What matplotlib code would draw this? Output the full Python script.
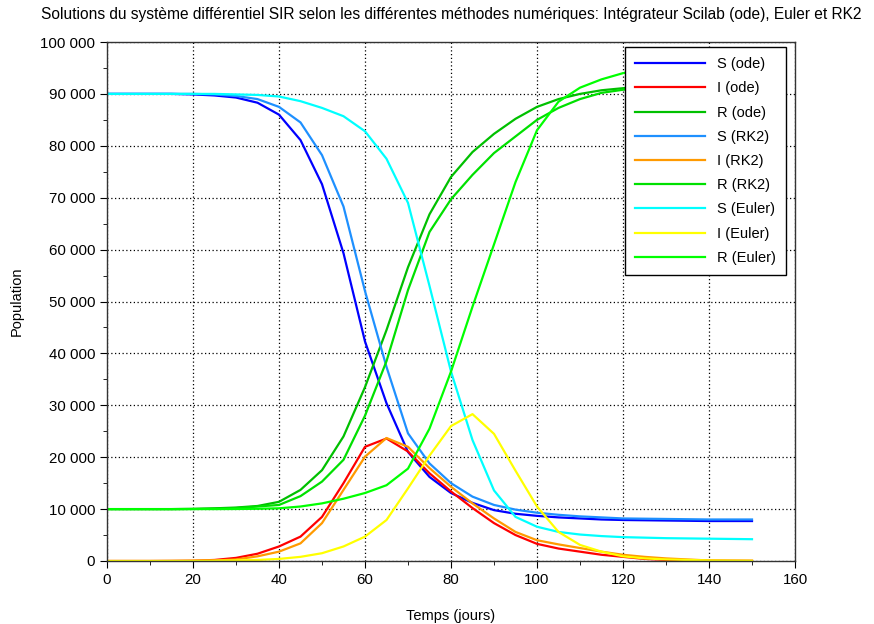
import matplotlib
matplotlib.use("Agg")
import matplotlib.pyplot as plt
from matplotlib.ticker import MultipleLocator, FuncFormatter

# temps (jours), pas de 5 jours
t = [0, 5, 10, 15, 20, 25, 30, 35, 40, 45, 50, 55, 60, 65, 70, 75, 80, 85, 90,
     95, 100, 105, 110, 115, 120, 125, 130, 135, 140, 145, 150]

# integrateur scilab (ode)
S_ode = [90000, 90000, 90000, 90000, 89900, 89700, 89300, 88300, 86000, 81100,
         72600, 59300, 42300, 30400, 21000, 16200, 13100, 11200, 9800, 9100,
         8700, 8400, 8200, 8000, 7900, 7850, 7800, 7750, 7700, 7700, 7700]
I_ode = [0, 0, 0, 20, 60, 200, 600, 1400, 2800, 4700, 8500, 15000, 22000, 23600,
         21100, 16900, 13400, 10200, 7300, 5000, 3300, 2400, 1800, 1200, 800,
         400, 200, 100, 80, 50, 30]
R_ode = [10000, 10000, 10000, 10000, 10050, 10150, 10300, 10600, 11400, 13700,
         17500, 24000, 33500, 44500, 56600, 66800, 74000, 78800, 82300, 85200,
         87500, 89000, 90000, 90700, 91100, 91400, 91700, 91900, 92000, 92100, 92200]

# RK2
S_rk2 = [90000, 90000, 90000, 90000, 90000, 89900, 89600, 89000, 87500, 84500,
         78200, 68300, 52000, 37400, 24600, 18800, 15000, 12400, 10800, 9900,
         9300, 8900, 8600, 8400, 8200, 8150, 8100, 8050, 8000, 8000, 8000]
I_rk2 = [0, 0, 0, 10, 30, 100, 300, 900, 1800, 3400, 7300, 13700, 20100, 23700,
         22000, 17900, 14300, 11100, 8200, 5600, 4000, 3200, 2500, 1800, 1200,
         800, 500, 300, 100, 50, 30]
R_rk2 = [10000, 10000, 10000, 10000, 10020, 10080, 10200, 10500, 10800, 12500,
         15300, 19500, 28000, 38500, 52200, 63400, 69700, 74400, 78600, 81800,
         85000, 87300, 89000, 90200, 90800, 91200, 91500, 91700, 91800, 91900, 92000]

# Euler
S_eul = [90000, 90000, 90000, 90000, 90000, 90000, 89900, 89800, 89500, 88600,
         87300, 85700, 82800, 77500, 69000, 53000, 36500, 23300, 13600, 8500,
         6600, 5600, 5100, 4800, 4600, 4500, 4400, 4350, 4300, 4250, 4200]
I_eul = [0, 0, 0, 10, 30, 60, 120, 200, 400, 800, 1500, 2800, 4700, 7900,
         14000, 20300, 26000, 28300, 24500, 17400, 10500, 5600, 3100, 1800, 900,
         500, 300, 200, 100, 70, 50]
R_eul = [10000, 10000, 10000, 10000, 10000, 10000, 10020, 10060, 10150, 10500,
         11100, 12000, 13100, 14600, 17800, 25500, 36500, 49000, 61000, 73000,
         83000, 88500, 91200, 92800, 94000, 94700, 95200, 95400, 95600, 95700, 95800]

series = [
    ("S (ode)", S_ode, "#0000ff"),
    ("I (ode)", I_ode, "#ff0000"),
    ("R (ode)", R_ode, "#00c000"),
    ("S (RK2)", S_rk2, "#1e90ff"),
    ("I (RK2)", I_rk2, "#ff9a00"),
    ("R (RK2)", R_rk2, "#00e000"),
    ("S (Euler)", S_eul, "#00ffff"),
    ("I (Euler)", I_eul, "#ffff00"),
    ("R (Euler)", R_eul, "#00ff00"),
]

plt.rcParams["font.family"] = ["Liberation Sans", "DejaVu Sans"]

fig = plt.figure(figsize=(8.74, 6.24), dpi=100)
ax = fig.add_axes([107 / 874, 63 / 624, 688 / 874, 519 / 624])

for name, vals, col in series:
    ax.plot(t, vals, color=col, lw=1.6, label=name)

ax.set_xlim(0, 160)
ax.set_ylim(0, 100000)
ax.xaxis.set_major_locator(MultipleLocator(20))
ax.xaxis.set_minor_locator(MultipleLocator(10))
ax.yaxis.set_major_locator(MultipleLocator(10000))
ax.yaxis.set_minor_locator(MultipleLocator(5000))
ax.yaxis.set_major_formatter(FuncFormatter(lambda v, p: f"{int(v):,}".replace(",", " ")))
ax.tick_params(which="both", direction="out", top=False, right=False, labelsize=10.8)
ax.tick_params(which="major", length=5)
ax.tick_params(which="minor", length=3)
ax.grid(True, which="major", color="black", linestyle=(0, (1, 2)), linewidth=0.9)
for sp in ax.spines.values():
    sp.set_linewidth(1.0)
    sp.set_color("#333333")

ax.set_xlabel("Temps (jours)", fontsize=10.5, labelpad=16)
ax.set_ylabel("Population", fontsize=10.5, labelpad=12)
fig.text(451 / 874, 1 - 14 / 624,
         "Solutions du système différentiel SIR selon les différentes méthodes numériques: "
         "Intégrateur Scilab (ode), Euler et RK2",
         ha="center", va="center", fontsize=11.2)

leg = ax.legend(loc="upper right", bbox_to_anchor=(1 - 9 / 688, 1 - 5 / 519),
                borderaxespad=0, fontsize=10.5, frameon=True, fancybox=False,
                framealpha=1, edgecolor="black", handlelength=4.8,
                labelspacing=0.7, borderpad=0.7, handletextpad=0.8)
leg.get_frame().set_linewidth(1.0)

fig.savefig("out.png", dpi=100)
